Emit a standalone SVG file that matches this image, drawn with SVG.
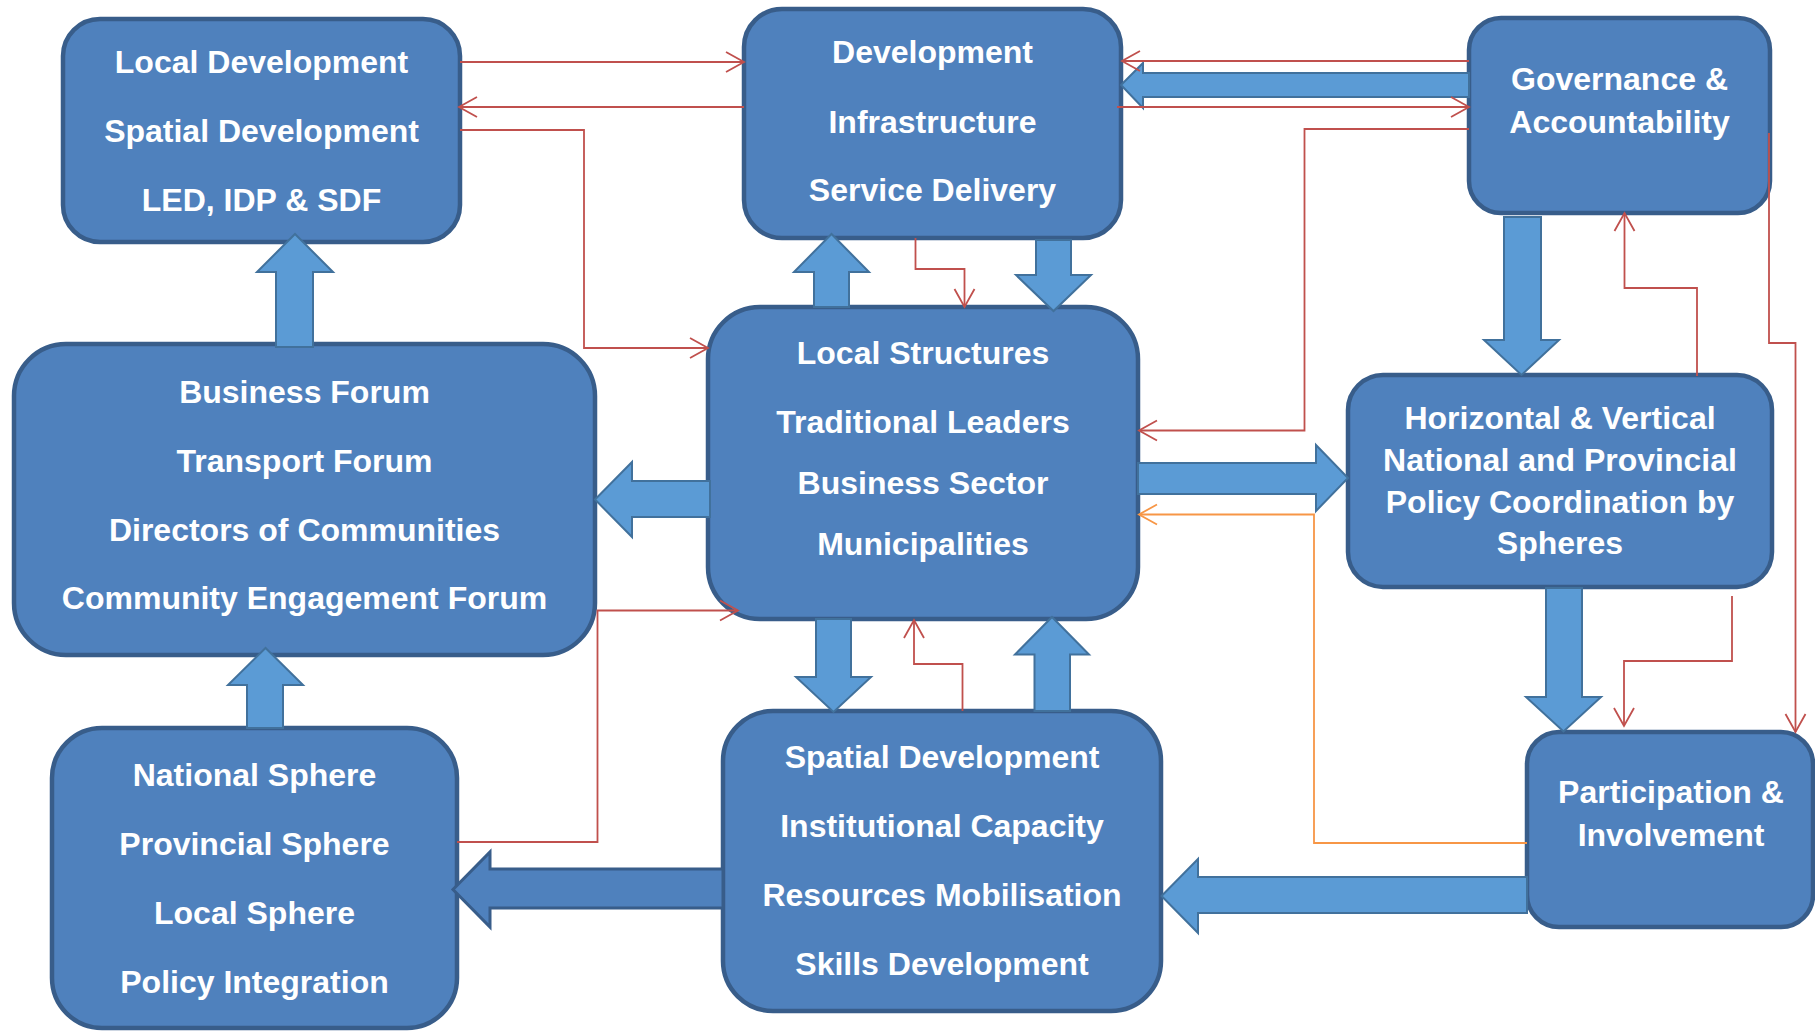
<svg xmlns="http://www.w3.org/2000/svg" width="1815" height="1031" viewBox="0 0 1815 1031">
<style>
.box{fill:#4F81BD;stroke:#385D8A;stroke-width:4.5}
.t{font-family:"Liberation Sans",Arial,sans-serif;font-weight:bold;font-size:32px;fill:#FFFFFF;text-anchor:middle}
.blk{fill:#5B9BD5;stroke:#41719C;stroke-width:2;stroke-linejoin:miter}
.blkd{fill:#4F81BD;stroke:#385D8A;stroke-width:3;stroke-linejoin:miter}
.red{fill:none;stroke:#C0504D;stroke-width:1.8;marker-end:url(#ar)}
.org{fill:none;stroke:#F79646;stroke-width:1.8;marker-end:url(#ao)}
</style>
<defs>
<marker id="ar" markerUnits="userSpaceOnUse" markerWidth="22" markerHeight="24" viewBox="0 0 22 24" refX="19" refY="12" orient="auto">
<path d="M1,2 L19,12 L1,22" fill="none" stroke="#C0504D" stroke-width="1.8"/>
</marker>
<marker id="ao" markerUnits="userSpaceOnUse" markerWidth="22" markerHeight="24" viewBox="0 0 22 24" refX="19" refY="12" orient="auto">
<path d="M1,2 L19,12 L1,22" fill="none" stroke="#F79646" stroke-width="1.8"/>
</marker>
</defs>
<rect width="1815" height="1031" fill="#FFFFFF"/>

<g id="local-development">
<rect class="box" x="63" y="19" width="397" height="223" rx="37"/>
<text class="t" x="261.5" y="72.5">Local Development</text>
<text class="t" x="261.5" y="141.5">Spatial Development</text>
<text class="t" x="261.5" y="210.5">LED, IDP &amp; SDF</text>
</g>

<g id="development">
<rect class="box" x="744" y="9" width="377" height="229" rx="38"/>
<text class="t" x="932.5" y="63">Development</text>
<text class="t" x="932.5" y="132.5">Infrastructure</text>
<text class="t" x="932.5" y="201">Service Delivery</text>
</g>

<g id="governance">
<rect class="box" x="1469" y="18" width="301" height="195" rx="32"/>
<text class="t" x="1619.5" y="89.5">Governance &amp;</text>
<text class="t" x="1619.5" y="132.5">Accountability</text>
</g>

<g id="business-forum">
<rect class="box" x="14" y="344" width="581" height="311" rx="52"/>
<text class="t" x="304.5" y="403">Business Forum</text>
<text class="t" x="304.5" y="472">Transport Forum</text>
<text class="t" x="304.5" y="541">Directors of Communities</text>
<text class="t" x="304.5" y="609">Community Engagement Forum</text>
</g>

<g id="local-structures">
<rect class="box" x="708" y="307" width="430" height="312" rx="52"/>
<text class="t" x="923" y="364">Local Structures</text>
<text class="t" x="923" y="433">Traditional Leaders</text>
<text class="t" x="923" y="494">Business Sector</text>
<text class="t" x="923" y="555">Municipalities</text>
</g>

<g id="coordination">
<rect class="box" x="1348" y="375" width="424" height="212" rx="35"/>
<text class="t" x="1560" y="429">Horizontal &amp; Vertical</text>
<text class="t" x="1560" y="471">National and Provincial</text>
<text class="t" x="1560" y="512.5">Policy Coordination by</text>
<text class="t" x="1560" y="554">Spheres</text>
</g>

<g id="participation">
<rect class="box" x="1527" y="732" width="286" height="195" rx="32"/>
<text class="t" x="1671" y="803">Participation &amp;</text>
<text class="t" x="1671" y="846">Involvement</text>
</g>

<g id="spheres">
<rect class="box" x="52" y="728" width="405" height="300" rx="50"/>
<text class="t" x="254.5" y="786">National Sphere</text>
<text class="t" x="254.5" y="855">Provincial Sphere</text>
<text class="t" x="254.5" y="924">Local Sphere</text>
<text class="t" x="254.5" y="993">Policy Integration</text>
</g>

<g id="capacity">
<rect class="box" x="723" y="711" width="438" height="300" rx="50"/>
<text class="t" x="942" y="768">Spatial Development</text>
<text class="t" x="942" y="837">Institutional Capacity</text>
<text class="t" x="942" y="906">Resources Mobilisation</text>
<text class="t" x="942" y="975">Skills Development</text>
</g>

<g id="connectors">
<g id="block-arrows">
<polygon class="blk" points="276,347 276,272 257,272 295,234 333,272 313,272 313,347"/>
<polygon class="blk" points="247,728 247,685 228,685 265.5,648 303,685 283,685 283,728"/>
<polygon class="blk" points="710,481 632,481 632,462 595,499.5 632,537 632,517 710,517"/>
<polygon class="blk" points="814,307 814,272 794,272 831.5,234 869,272 849,272 849,307"/>
<polygon class="blk" points="1036,240 1071,240 1071,275 1091,275 1053.5,311 1016,275 1036,275"/>
<polygon class="blk" points="1469,73 1143,73 1143,63 1121,85 1143,108 1143,97 1469,97"/>
<polygon class="blk" points="1504,217 1541,217 1541,340 1559,340 1521.5,375 1484,340 1504,340"/>
<polygon class="blk" points="1138,463 1316,463 1316,445 1348,478 1316,511 1316,494 1138,494"/>
<polygon class="blk" points="1546,588 1582,588 1582,697 1601,697 1563.5,731.5 1526,697 1546,697"/>
<polygon class="blk" points="1527,877 1198,877 1198,859 1161.5,896 1198,933 1198,913 1527,913"/>
<polygon class="blkd" points="723,869 490,869 490,852 453,889.5 490,927 490,908 723,908"/>
<polygon class="blk" points="816,619 851,619 851,677 871,677 833.5,712 796,677 816,677"/>
<polygon class="blk" points="1034.5,711 1034.5,654.5 1015,654.5 1052,617 1089,654.5 1070,654.5 1070,711"/>
</g>
<g id="lines">
<path class="red" d="M460,62 H744"/>
<path class="red" d="M744,107 H459"/>
<path class="red" d="M460,130 H584 V348 H708"/>
<path class="red" d="M1469,61 H1122"/>
<path class="red" d="M1117,107 H1469"/>
<path class="red" d="M1469,129 H1304.5 V430.5 H1139"/>
<path class="red" d="M915.5,238 V269 H964.5 V307"/>
<path class="red" d="M1697,376 V288 H1624.5 V213"/>
<path class="red" d="M1769,133 V343 H1795.5 V732"/>
<path class="red" d="M1732,596 V661 H1624 V726"/>
<path class="org" d="M1527,843 H1314 V514.5 H1139"/>
<path class="red" d="M457,842 H597.5 V610.5 H738"/>
<path class="red" d="M962.5,711 V664 H914 V620"/>
</g>
</g>
</svg>
